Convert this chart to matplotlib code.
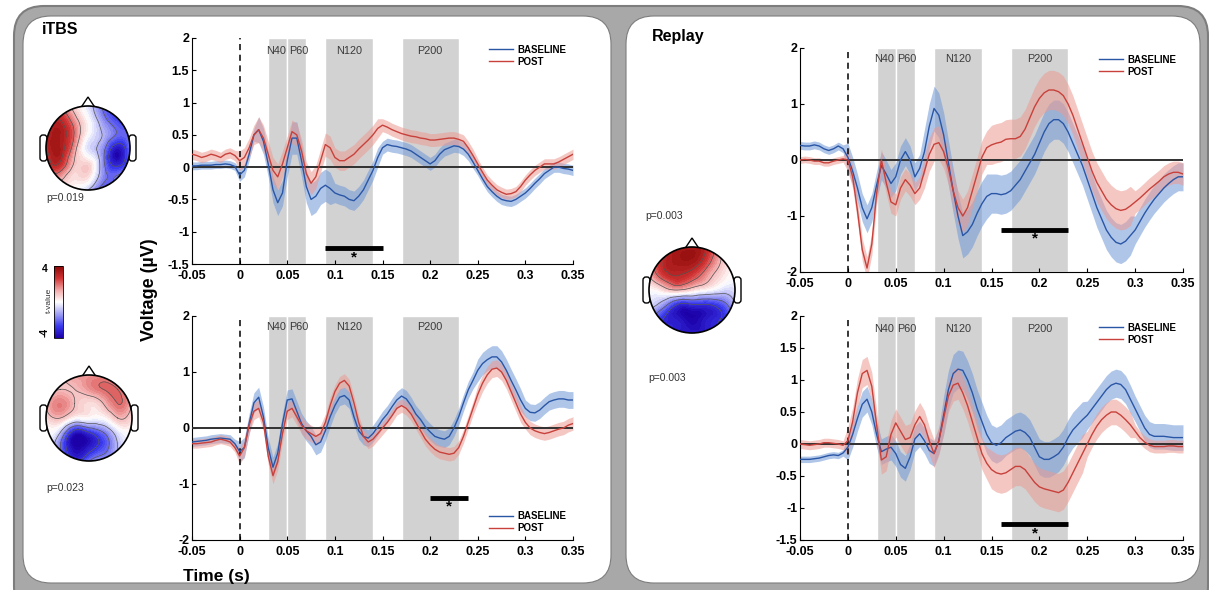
import numpy as np
import matplotlib
matplotlib.use('Agg')
import matplotlib.pyplot as plt
import matplotlib.cm as cm
import matplotlib.tri as mtri
from matplotlib.patches import FancyBboxPatch, Circle, Polygon
from matplotlib.lines import Line2D
from matplotlib.colors import LinearSegmentedColormap, Normalize

plt.rcParams['font.family'] = ['Liberation Sans', 'DejaVu Sans']

# ---- data ----
time = np.round(np.arange(-0.05, 0.3501, 0.005), 3)

windows = [(0.03, 0.05), (0.05, 0.07), (0.09, 0.14), (0.17, 0.23)]
window_names = ['N40', 'P60', 'N120', 'P200']
xtick_vals = [-0.05, 0, 0.05, 0.1, 0.15, 0.2, 0.25, 0.3, 0.35]
xtick_labels = ['-0.05', '0', '0.05', '0.1', '0.15', '0.2', '0.25', '0.3', '0.35']

# iTBS, top
tl_base = [0.02, 0.02, 0.03, 0.03, 0.03, 0.04, 0.04, 0.05, 0.04, 0.01,
           -0.12, -0.05, 0.2, 0.5, 0.58, 0.4, 0.05, -0.35, -0.55, -0.4,
           0.1, 0.45, 0.45, 0.1, -0.3, -0.5, -0.45, -0.33, -0.28, -0.33,
           -0.4, -0.43, -0.45, -0.5, -0.52, -0.45, -0.35, -0.2, -0.05, 0.15,
           0.3, 0.35, 0.33, 0.32, 0.3, 0.28, 0.25, 0.2, 0.15, 0.1,
           0.05, 0.1, 0.2, 0.27, 0.3, 0.33, 0.32, 0.28, 0.2, 0.08,
           -0.05, -0.18, -0.3, -0.38, -0.45, -0.5, -0.52, -0.53, -0.5, -0.45,
           -0.4, -0.33, -0.25, -0.18, -0.1, -0.05, 0.0, 0.0, -0.02, -0.03, -0.05]
tl_post = [0.2, 0.18, 0.15, 0.17, 0.2, 0.18, 0.15, 0.2, 0.22, 0.18,
           0.1, 0.15, 0.3, 0.5, 0.58, 0.45, 0.2, -0.05, -0.15, 0.05,
           0.3, 0.55, 0.5, 0.25, -0.1, -0.25, -0.15, 0.1, 0.35, 0.3,
           0.15, 0.1, 0.1, 0.15, 0.2, 0.28, 0.35, 0.42, 0.5, 0.6,
           0.65, 0.62, 0.58, 0.55, 0.52, 0.5, 0.48, 0.47, 0.45, 0.44,
           0.42, 0.42, 0.43, 0.44, 0.45, 0.45, 0.43, 0.4, 0.3, 0.18,
           0.05, -0.08, -0.2, -0.28, -0.35, -0.39, -0.42, -0.41, -0.38, -0.3,
           -0.2, -0.12, -0.05, 0.0, 0.05, 0.05, 0.05, 0.08, 0.12, 0.16, 0.2]
tl_base_sem = [0.06] * 10 + [0.1] * 4 + [0.2] * 6 + [0.25] * 10 + [0.15] * 10 + [0.1] * 20 + [0.08] * 21
tl_post_sem = [0.08] * 10 + [0.15] * 4 + [0.2] * 6 + [0.18] * 10 + [0.15] * 10 + [0.1] * 20 + [0.08] * 21

# iTBS, bottom
bl_base = [-0.25, -0.24, -0.23, -0.22, -0.2, -0.19, -0.18, -0.19, -0.2, -0.28,
           -0.42, -0.35, 0.08, 0.45, 0.55, 0.2, -0.35, -0.7, -0.45, 0.08,
           0.5, 0.52, 0.3, 0.08, -0.05, -0.15, -0.3, -0.25, -0.05, 0.2,
           0.4, 0.55, 0.58, 0.5, 0.2, -0.05, -0.15, -0.18, -0.1, 0.02,
           0.15, 0.25, 0.38, 0.5, 0.57, 0.52, 0.4, 0.25, 0.15, 0.02,
           -0.07, -0.15, -0.18, -0.2, -0.15, 0.0, 0.2, 0.45, 0.68, 0.85,
           1.03, 1.15, 1.22, 1.27, 1.27, 1.18, 1.03, 0.85, 0.68, 0.5,
           0.35, 0.28, 0.27, 0.32, 0.4, 0.47, 0.5, 0.52, 0.52, 0.5, 0.5]
bl_post = [-0.28, -0.28, -0.27, -0.26, -0.25, -0.22, -0.2, -0.22, -0.25, -0.35,
           -0.5, -0.35, 0.05, 0.3, 0.35, 0.1, -0.5, -0.85, -0.6, -0.1,
           0.3, 0.35, 0.2, 0.05, -0.05, -0.1, -0.15, -0.1, 0.1, 0.4,
           0.65, 0.8, 0.85, 0.75, 0.45, 0.1, -0.15, -0.25, -0.2, -0.1,
           0.0, 0.1, 0.22, 0.35, 0.4, 0.35, 0.25, 0.1, -0.05, -0.2,
           -0.3, -0.38, -0.43, -0.45, -0.47, -0.45, -0.35, -0.15, 0.1, 0.35,
           0.6, 0.8, 0.95, 1.05, 1.07, 1.0, 0.85, 0.65, 0.45, 0.25,
           0.1, 0.0, -0.05, -0.08, -0.1, -0.08, -0.05, -0.02, 0.0, 0.05, 0.08]
bl_base_sem = [0.08] * 10 + [0.18] * 20 + [0.15] * 20 + [0.15] * 10 + [0.2] * 10 + [0.15] * 11
bl_post_sem = [0.08] * 10 + [0.15] * 20 + [0.12] * 20 + [0.12] * 10 + [0.15] * 10 + [0.12] * 11

# Replay, top
tr_base = [0.26, 0.25, 0.25, 0.27, 0.25, 0.2, 0.17, 0.2, 0.25, 0.2,
           0.05, -0.2, -0.5, -0.85, -1.05, -0.85, -0.45, -0.1, -0.25, -0.42,
           -0.3, 0.0, 0.15, 0.0, -0.3, -0.15, 0.15, 0.6, 0.92, 0.8,
           0.45, -0.05, -0.55, -1.0, -1.35, -1.28, -1.15, -0.95, -0.78, -0.65,
           -0.6, -0.6, -0.62, -0.6, -0.55, -0.45, -0.35, -0.2, -0.05, 0.1,
           0.3, 0.5, 0.65, 0.72, 0.72, 0.65, 0.5, 0.3, 0.1, -0.1,
           -0.35, -0.6, -0.85, -1.05, -1.25, -1.38, -1.47, -1.5, -1.45, -1.35,
           -1.25, -1.1, -0.95, -0.82, -0.7, -0.6, -0.5, -0.42, -0.35, -0.3, -0.3]
tr_post = [0.0, 0.01, 0.0, -0.02, -0.02, -0.05, -0.05, -0.02, 0.0, 0.02,
           0.0, -0.3, -0.9, -1.6, -1.93, -1.5, -0.6, 0.0, -0.4, -0.75,
           -0.8, -0.5, -0.35, -0.45, -0.6, -0.5, -0.2, 0.1, 0.28, 0.31,
           0.15, -0.15, -0.55, -0.85, -1.0, -0.85, -0.55, -0.25, 0.05, 0.22,
           0.27, 0.3, 0.32, 0.37, 0.38, 0.38, 0.42, 0.55, 0.75, 0.95,
           1.1, 1.2, 1.25, 1.25, 1.22, 1.15, 1.0, 0.8, 0.55, 0.3,
           0.05, -0.2, -0.4, -0.55, -0.7, -0.8, -0.87, -0.9, -0.88, -0.82,
           -0.75, -0.68, -0.6, -0.52, -0.45, -0.38, -0.3, -0.25, -0.22, -0.22, -0.25]
tr_base_sem = [0.07] * 10 + [0.25] * 16 + [0.4] * 14 + [0.35] * 20 + [0.35] * 10 + [0.25] * 11
tr_post_sem = [0.06] * 10 + [0.2] * 16 + [0.3] * 14 + [0.35] * 20 + [0.35] * 10 + [0.2] * 11

# Replay, bottom
br_base = [-0.24, -0.24, -0.24, -0.23, -0.22, -0.2, -0.18, -0.17, -0.18, -0.14,
           -0.05, 0.15, 0.4, 0.62, 0.7, 0.5, 0.15, -0.12, -0.08, -0.05,
           -0.15, -0.32, -0.38, -0.2, 0.08, 0.16, 0.05, -0.1, -0.15, 0.05,
           0.45, 0.85, 1.1, 1.17, 1.15, 1.0, 0.8, 0.55, 0.35, 0.15,
           0.02, -0.02, 0.02, 0.1, 0.15, 0.2, 0.22, 0.18, 0.1, -0.05,
           -0.2, -0.24, -0.24, -0.2, -0.15, -0.05, 0.1, 0.22, 0.3, 0.38,
           0.45, 0.55, 0.65, 0.75, 0.85, 0.92, 0.95, 0.93, 0.85, 0.7,
           0.55, 0.4, 0.25, 0.15, 0.12, 0.12, 0.12, 0.11, 0.1, 0.1, 0.1]
br_post = [0.0, -0.01, -0.02, -0.01, 0.0, 0.02, 0.02, 0.01, 0.0, -0.02,
           0.05, 0.35, 0.8, 1.1, 1.15, 0.9, 0.3, -0.25, -0.2, 0.15,
           0.33, 0.2, 0.07, 0.1, 0.3, 0.43, 0.3, 0.05, -0.15, 0.05,
           0.4, 0.75, 0.92, 0.95, 0.8, 0.6, 0.35, 0.1, -0.15, -0.3,
           -0.4, -0.45, -0.47, -0.45, -0.4, -0.35, -0.35, -0.4, -0.5, -0.6,
           -0.67, -0.7, -0.72, -0.74, -0.76, -0.72, -0.6, -0.45, -0.3, -0.15,
           0.0, 0.15, 0.28, 0.38, 0.45, 0.5, 0.5, 0.45, 0.38, 0.3,
           0.2, 0.1, 0.03, -0.02, -0.04, -0.04, -0.04, -0.03, -0.03, -0.04, -0.04]
br_base_sem = [0.05] * 10 + [0.2] * 20 + [0.3] * 10 + [0.28] * 20 + [0.22] * 10 + [0.2] * 11
br_post_sem = [0.07] * 10 + [0.22] * 20 + [0.25] * 10 + [0.3] * 20 + [0.2] * 10 + [0.1] * 11

# significant clusters (start, end)
tl_sig = (0.09, 0.15)
bl_sig = (0.2, 0.24)
tr_sig = (0.16, 0.23)
br_sig = (0.16, 0.23)

# topography t-values, rows front -> back, columns left -> right
topo_itbs_top = [[2.0, 2.0, 0.5, -0.5, -2.0, -2.5, -2.5],
                 [2.5, 3.0, 1.5, 0.0, -1.5, -2.5, -2.5],
                 [3.0, 3.4, 2.0, 0.0, -1.0, -2.0, -2.0],
                 [3.0, 3.4, 1.5, -0.5, -1.5, -3.5, -2.0],
                 [2.5, 3.0, 1.0, 0.5, -1.5, -3.5, -2.0],
                 [2.0, 1.5, 0.5, 0.5, -1.5, -2.0, -1.5],
                 [1.0, 0.5, 0.0, -1.0, -2.5, -2.5, -1.5]]
topo_itbs_bot = [[0.0, 1.0, 1.5, 1.5, 1.5, 1.0, 0.5],
                 [0.5, 1.0, 1.0, 1.5, 2.0, 2.0, 1.0],
                 [1.0, 1.8, 1.0, 0.5, 1.0, 2.0, 1.0],
                 [0.5, 1.0, 0.0, 0.0, 0.0, 1.0, 0.5],
                 [0.0, -1.0, -3.5, -3.0, -2.0, -0.5, 0.0],
                 [0.0, -2.0, -4.0, -3.5, -2.5, -1.0, 0.0],
                 [0.0, -1.0, -3.0, -2.0, -1.5, -1.0, 0.0]]
topo_replay = [[1.0, 2.5, 3.5, 3.5, 3.0, 1.0, 0.0],
               [1.5, 3.0, 3.5, 3.5, 2.5, 1.0, 0.0],
               [1.0, 2.5, 3.0, 2.5, 1.5, 0.5, 0.0],
               [0.0, 0.5, 1.0, 0.5, 0.0, -0.5, -0.5],
               [-0.5, -1.5, -3.0, -3.0, -3.0, -2.5, -1.0],
               [-1.0, -3.0, -3.5, -4.0, -3.5, -3.0, -1.5],
               [-1.0, -2.5, -3.5, -3.5, -3.5, -2.5, -1.0]]

# ---- styles ----
BLUE, BLUE_F = '#2a56a6', '#6f98d8'
RED, RED_F = '#c8413b', '#eb9a92'
cmap = LinearSegmentedColormap.from_list(
    'rwb', ['#1c00a8', '#3a3aee', '#a0a0f4', '#ffffff', '#f2a8a8', '#d03232', '#8a0808'])
label_x = [0.038, 0.062, 0.115, 0.2]   # window label anchors

W, H = 1209, 590
fig = plt.figure(figsize=(W / 100, H / 100), dpi=100)

bg = fig.add_axes([0, 0, 1, 1])
bg.axis('off')

# panel frames
bg.add_patch(FancyBboxPatch((14, 6), W - 15, H + 20, boxstyle='round,pad=0,rounding_size=30',
                            fc='#a8a8a8', ec='#7d7d7d', lw=1.5))
bg.add_patch(FancyBboxPatch((23, 16), 588, 567, boxstyle='round,pad=0,rounding_size=28',
                            fc='white', ec='#7d7d7d', lw=0.8))
bg.add_patch(FancyBboxPatch((626, 16), 574, 567, boxstyle='round,pad=0,rounding_size=28',
                            fc='white', ec='#7d7d7d', lw=0.8))


def draw_head(grid, cx, cy, r):
    g = np.array(grid, dtype=float)
    n = g.shape[0]
    circ = Circle((cx, cy), r, transform=bg.transData)
    xs = np.linspace(cx - r, cx + r, n)
    ys = np.linspace(cy - r, cy + r, n)
    gx, gy = np.meshgrid(xs, ys)
    tri = mtri.Triangulation(gx.ravel(), gy.ravel())
    tri_f, z_f = mtri.UniformTriRefiner(tri).refine_field(g.ravel(), subdiv=4)
    cf = bg.tricontourf(tri_f, z_f, levels=np.linspace(-4, 4, 41), cmap=cmap,
                        extend='both', zorder=2)
    cf.set_clip_path(circ)
    cl = bg.tricontour(tri_f, z_f, levels=[-3, -2, -1, 1, 2, 3], colors='#555555',
                       linewidths=0.5, linestyles='solid', zorder=3)
    cl.set_clip_path(circ)
    bg.add_patch(Circle((cx, cy), r, fc='none', ec='black', lw=1.2, zorder=4))
    bg.add_patch(Polygon([(cx - 8, cy - r + 3), (cx, cy - r - 9), (cx + 8, cy - r + 3)],
                         closed=True, fc='white', ec='black', lw=1, zorder=1))
    for side in (-1, 1):
        x0 = cx - r - 6 if side < 0 else cx + r - 1
        bg.add_patch(FancyBboxPatch((x0, cy - 13), 7, 26, boxstyle='round,pad=0,rounding_size=3',
                                    fc='white', ec='black', lw=1, zorder=1))


draw_head(topo_itbs_top, 88, 148, 42)
draw_head(topo_itbs_bot, 89, 418, 43)
draw_head(topo_replay, 692, 290, 43)

bg.set_xlim(0, W)
bg.set_ylim(H, 0)

bg.text(42, 30, 'iTBS', fontsize=11.5, fontweight='bold', va='center')
bg.text(652, 36, 'Replay', fontsize=11.5, fontweight='bold', va='center')
bg.text(46, 198, 'p=0.019', fontsize=7.5, va='center', color='#333333')
bg.text(46, 488, 'p=0.023', fontsize=7.5, va='center', color='#333333')
bg.text(645, 216, 'p=0.003', fontsize=7.5, va='center', color='#333333')
bg.text(648, 378, 'p=0.003', fontsize=7.5, va='center', color='#333333')
bg.text(150, 290, 'Voltage (µV)', fontsize=13, fontweight='bold', rotation=90,
        ha='center', va='center')
bg.text(216, 577, 'Time (s)', fontsize=12.5, fontweight='bold', ha='center', va='center')

# colorbar
cax = fig.add_axes([54 / W, 1 - 338 / H, 9 / W, 72 / H])
cb = fig.colorbar(cm.ScalarMappable(norm=Normalize(-4, 4), cmap=cmap), cax=cax)
cb.set_ticks([])
cb.outline.set_linewidth(0.6)
bg.text(45, 269, '4', fontsize=7.5, fontweight='bold', ha='center', va='center')
bg.text(45, 332, '-4', fontsize=7.5, fontweight='bold', ha='center', va='center', rotation=90)
bg.text(49, 300, 't-value', fontsize=6, ha='center', va='center', rotation=90, color='#333333')


def erp_axes(px, ylim, yticks, ylabels, base, base_sem, post, post_sem, sig, legend_loc):
    x0, x1, y0, y1 = px
    ax = fig.add_axes([x0 / W, 1 - y1 / H, (x1 - x0) / W, (y1 - y0) / H])
    for (a, b), name, lx in zip(windows, window_names, label_x):
        ax.axvspan(a, b, facecolor='#d2d2d2', edgecolor='white', lw=1, zorder=0)
        ax.text(lx, 1.8, name, ha='center', va='center', fontsize=7.8, color='#3a3a3a')
    base, post = np.array(base), np.array(post)
    bs, ps = np.array(base_sem), np.array(post_sem)
    ax.fill_between(time, base - bs, base + bs, color=BLUE_F, alpha=0.55, lw=0, zorder=2)
    ax.fill_between(time, post - ps, post + ps, color=RED_F, alpha=0.55, lw=0, zorder=2)
    ax.axhline(0, color='#303030', lw=1.4, zorder=3)
    ax.axvline(0, color='black', ls=(0, (4, 3)), lw=1.1, zorder=3)
    ax.plot(time, base, color=BLUE, lw=1, zorder=4)
    ax.plot(time, post, color=RED, lw=1, zorder=4)
    ax.plot(sig, [-1.25, -1.25], color='black', lw=3.5, solid_capstyle='butt', zorder=5)
    ax.text(sum(sig) / 2, -1.4, '*', ha='center', va='center', fontsize=11, fontweight='bold')
    ax.set_xlim(-0.05, 0.35)
    ax.set_ylim(ylim)
    ax.set_xticks(xtick_vals, xtick_labels)
    ax.set_yticks(yticks, ylabels)
    ax.tick_params(direction='in', length=3, width=0.8, labelsize=9)
    ax.tick_params(axis='x', pad=4)
    ax.tick_params(axis='y', pad=2)
    for lab in ax.get_xticklabels() + ax.get_yticklabels():
        lab.set_fontweight('bold')
    for s in ('top', 'right'):
        ax.spines[s].set_visible(False)
    handles = [Line2D([], [], color=BLUE, lw=1), Line2D([], [], color=RED, lw=1)]
    ax.legend(handles, ['BASELINE', 'POST'], loc=legend_loc, frameon=False,
              prop={'weight': 'bold', 'size': 7}, handlelength=2.5, handletextpad=0.4,
              labelspacing=0.2, borderaxespad=0.3)
    return ax


yt_a = [-1.5, -1, -0.5, 0, 0.5, 1, 1.5, 2]
yl_a = ['-1.5', '-1', '-0.5', '0', '0.5', '1', '1.5', '2']
yt_b = [-2, -1, 0, 1, 2]
yl_b = ['-2', '-1', '0', '1', '2']

erp_axes((192, 573, 38, 264), (-1.5, 2), yt_a, yl_a, tl_base, tl_base_sem, tl_post, tl_post_sem,
         tl_sig, 'upper right')
erp_axes((192, 573, 316, 540), (-2, 2), yt_b, yl_b, bl_base, bl_base_sem, bl_post, bl_post_sem,
         bl_sig, 'lower right')
erp_axes((800, 1183, 48, 272), (-2, 2), yt_b, yl_b, tr_base, tr_base_sem, tr_post, tr_post_sem,
         tr_sig, 'upper right')
erp_axes((800, 1183, 316, 540), (-1.5, 2), yt_a, yl_a, br_base, br_base_sem, br_post, br_post_sem,
         br_sig, 'upper right')

fig.savefig('out.png', dpi=100)
